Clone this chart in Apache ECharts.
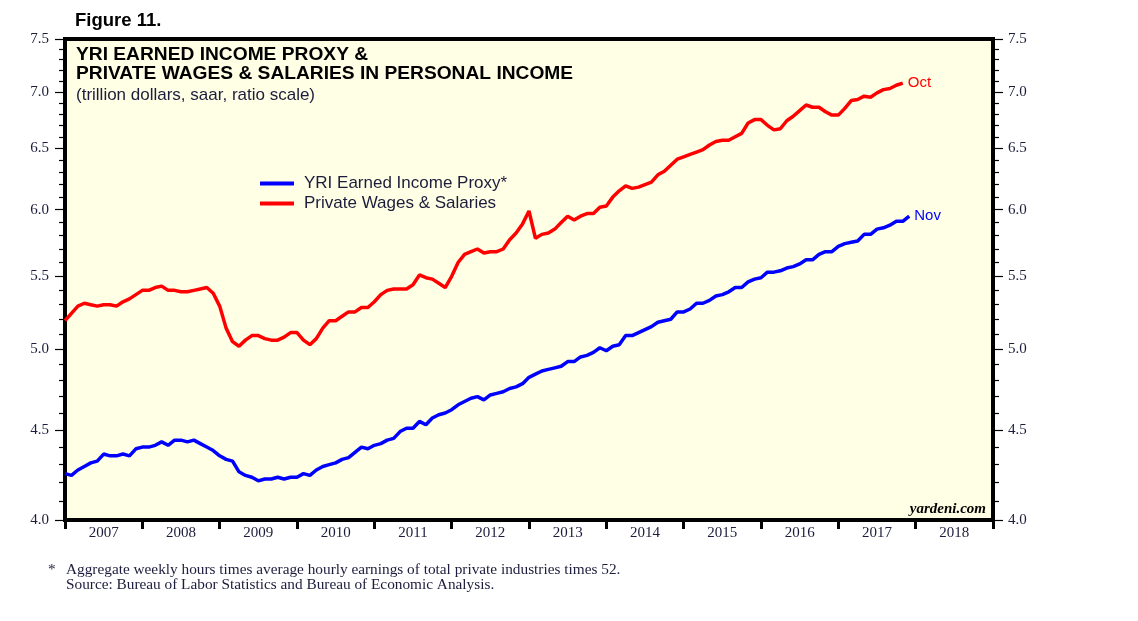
<!DOCTYPE html>
<html>
<head>
<meta charset="utf-8">
<script src="https://cdn.jsdelivr.net/npm/echarts@6/dist/echarts.min.js"></script>
<style>
  html, body { margin: 0; padding: 0; background: #fff; }
  #main { width: 1138px; height: 621px; }
</style>
</head>
<body>
<div id="main"></div>
<script>
// year bands on the x axis
var years = ['2007', '2008', '2009', '2010', '2011', '2012', '2013', '2014', '2015', '2016', '2017', '2018'];
// ratio scale ticks
var yMajor = [4.0, 4.5, 5.0, 5.5, 6.0, 6.5, 7.0, 7.5];
var yMinor = [4.1, 4.2, 4.3, 4.4, 4.6, 4.7, 4.8, 4.9, 5.1, 5.2, 5.3, 5.4, 5.6, 5.7, 5.8, 5.9,
              6.1, 6.2, 6.3, 6.4, 6.6, 6.7, 6.8, 6.9, 7.1, 7.2, 7.3, 7.4];

// monthly, first value = Dec 2006, last = Oct 2017
var wages = [
  5.19, 5.24, 5.29, 5.31, 5.30, 5.29, 5.30, 5.30, 5.29, 5.32, 5.34, 5.37,
  5.40, 5.40, 5.42, 5.43, 5.40, 5.40, 5.39, 5.39, 5.40, 5.41, 5.42, 5.38,
  5.29, 5.14, 5.05, 5.02, 5.06, 5.09, 5.09, 5.07, 5.06, 5.06, 5.08, 5.11,
  5.11, 5.06, 5.03, 5.07, 5.14, 5.19, 5.19, 5.22, 5.25, 5.25, 5.28, 5.28,
  5.32, 5.37, 5.40, 5.41, 5.41, 5.41, 5.44, 5.51, 5.49, 5.48, 5.45, 5.42,
  5.50, 5.60, 5.66, 5.68, 5.70, 5.67, 5.68, 5.68, 5.70, 5.77, 5.82, 5.89,
  5.99, 5.78, 5.81, 5.82, 5.85, 5.90, 5.95, 5.92, 5.95, 5.97, 5.97, 6.02,
  6.03, 6.10, 6.15, 6.19, 6.17, 6.18, 6.20, 6.22, 6.28, 6.31, 6.36, 6.41,
  6.43, 6.45, 6.47, 6.49, 6.53, 6.56, 6.57, 6.57, 6.60, 6.63, 6.72, 6.75,
  6.75, 6.70, 6.66, 6.67, 6.74, 6.78, 6.83, 6.88, 6.86, 6.86, 6.82, 6.79,
  6.79, 6.85, 6.92, 6.93, 6.96, 6.95, 6.99, 7.02, 7.03, 7.06, 7.08
];
// monthly, first value = Dec 2006, last = Nov 2017
var proxy = [
  4.25, 4.24, 4.27, 4.29, 4.31, 4.32, 4.36, 4.35, 4.35, 4.36, 4.35, 4.39,
  4.40, 4.40, 4.41, 4.43, 4.41, 4.44, 4.44, 4.43, 4.44, 4.42, 4.40, 4.38,
  4.35, 4.33, 4.32, 4.26, 4.24, 4.23, 4.21, 4.22, 4.22, 4.23, 4.22, 4.23,
  4.23, 4.25, 4.24, 4.27, 4.29, 4.30, 4.31, 4.33, 4.34, 4.37, 4.40, 4.39,
  4.41, 4.42, 4.44, 4.45, 4.49, 4.51, 4.51, 4.55, 4.53, 4.57, 4.59, 4.60,
  4.62, 4.65, 4.67, 4.69, 4.70, 4.68, 4.71, 4.72, 4.73, 4.75, 4.76, 4.78,
  4.82, 4.84, 4.86, 4.87, 4.88, 4.89, 4.92, 4.92, 4.95, 4.96, 4.98, 5.01,
  4.99, 5.02, 5.03, 5.09, 5.09, 5.11, 5.13, 5.15, 5.18, 5.19, 5.20, 5.25,
  5.25, 5.27, 5.31, 5.31, 5.33, 5.36, 5.37, 5.39, 5.42, 5.42, 5.46, 5.48,
  5.49, 5.53, 5.53, 5.54, 5.56, 5.57, 5.59, 5.62, 5.62, 5.66, 5.68, 5.68,
  5.72, 5.74, 5.75, 5.76, 5.81, 5.81, 5.85, 5.86, 5.88, 5.91, 5.91, 5.95
];

(function(){
  var myChart = echarts.init(document.getElementById('main'));
  var labelColor = '#1c1c3c';
  var serif = 'Liberation Serif';
  var sans = 'Liberation Sans';

  function pairs(arr) {
    return arr.map(function (v, i) { return [i, v]; });
  }

  function majorAxis(pos, margin) {
    return {
      type: 'log', min: 4, max: 7.5, position: pos,
      axisLine: { show: false }, splitLine: { show: false },
      axisTick: { show: true, length: 10, customValues: yMajor, lineStyle: { color: '#000', width: 1.2 } },
      axisLabel: {
        customValues: yMajor, margin: margin, color: labelColor,
        fontFamily: serif, fontSize: 15,
        formatter: function (v) { return Number(v).toFixed(1); }
      }
    };
  }
  function minorAxis(pos) {
    return {
      type: 'log', min: 4, max: 7.5, position: pos,
      axisLine: { show: false }, splitLine: { show: false },
      axisTick: { show: true, length: 6, customValues: yMinor, lineStyle: { color: '#000', width: 1.2 } },
      axisLabel: { show: false }
    };
  }

  var option = {
    animation: false,
    title: [
      { text: 'Figure 11.', left: 75, top: 11, padding: 0,
        textStyle: { fontFamily: sans, fontWeight: 'bold', fontSize: 18.5, lineHeight: 20, color: '#000' } },
      { text: 'YRI EARNED INCOME PROXY &\nPRIVATE WAGES & SALARIES IN PERSONAL INCOME', left: 76, top: 45, padding: 0,
        textStyle: { fontFamily: sans, fontWeight: 'bold', fontSize: 19.2, lineHeight: 19, color: '#000' } },
      { text: '(trillion dollars, saar, ratio scale)', left: 76, top: 86, padding: 0,
        textStyle: { fontFamily: sans, fontWeight: 'normal', fontSize: 17, lineHeight: 18, color: labelColor } },
      { text: 'yardeni.com', right: 152, top: 501, padding: 0,
        textStyle: { fontFamily: serif, fontStyle: 'italic', fontWeight: 'bold', fontSize: 15, lineHeight: 16, color: '#000' } },
      { text: '*', left: 48, top: 562, padding: 0,
        textStyle: { fontFamily: serif, fontWeight: 'normal', fontSize: 15.3, lineHeight: 15, color: labelColor } },
      { text: 'Aggregate weekly hours times average hourly earnings of total private industries times 52.\nSource: Bureau of Labor Statistics and Bureau of Economic Analysis.',
        left: 66, top: 562, padding: 0,
        textStyle: { fontFamily: serif, fontWeight: 'normal', fontSize: 15.3, lineHeight: 15, color: labelColor } }
    ],
    legend: {
      left: 255, top: 170, orient: 'vertical', icon: 'rect',
      itemWidth: 34, itemHeight: 4, itemGap: 3,
      textStyle: { fontFamily: sans, fontSize: 17, color: labelColor, padding: [0, 0, 0, 5] },
      data: ['YRI Earned Income Proxy*', 'Private Wages & Salaries']
    },
    grid: {
      left: 65, top: 39, right: 145, bottom: 101,
      show: true, backgroundColor: '#FFFFE5', borderColor: '#000', borderWidth: 4
    },
    xAxis: [
      {
        type: 'category', data: years, boundaryGap: true, position: 'bottom',
        axisLine: { show: false },
        axisTick: { show: true, interval: 0, length: 9, lineStyle: { color: '#000', width: 3 } },
        axisLabel: { margin: 6, color: labelColor, fontFamily: serif, fontSize: 15 },
        splitLine: { show: false }
      },
      { type: 'value', min: 0, max: 144, show: false }
    ],
    yAxis: [
      majorAxis('left', 16), minorAxis('left'),
      majorAxis('right', 15), minorAxis('right')
    ],
    series: [
      {
        name: 'YRI Earned Income Proxy*', type: 'line', xAxisIndex: 1, yAxisIndex: 0,
        data: pairs(proxy), showSymbol: false, symbol: 'none',
        lineStyle: { color: '#0000FF', width: 3.5 }, itemStyle: { color: '#0000FF' },
        endLabel: { show: true, formatter: 'Nov', color: '#0000FF', fontFamily: sans, fontSize: 15, distance: 5 }
      },
      {
        name: 'Private Wages & Salaries', type: 'line', xAxisIndex: 1, yAxisIndex: 0,
        data: pairs(wages), showSymbol: false, symbol: 'none',
        lineStyle: { color: '#FF0000', width: 3.5 }, itemStyle: { color: '#FF0000' },
        endLabel: { show: true, formatter: 'Oct', color: '#FF0000', fontFamily: sans, fontSize: 15, distance: 5 }
      }
    ]
  };
  myChart.setOption(option);
  window.addEventListener('resize', function () {
    myChart.resize();
  });
})();
</script>
</body>
</html>
